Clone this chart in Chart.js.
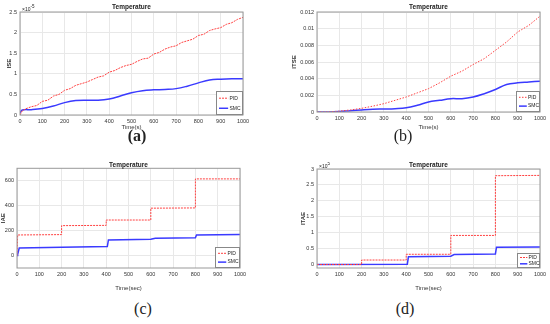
<!DOCTYPE html>
<html>
<head>
<meta charset="utf-8">
<script src="https://cdn.jsdelivr.net/npm/chart.js@4.4.0/dist/chart.umd.min.js"></script>
<style>
  body { margin: 0; background: #fff; }
  #wrap { position: relative; width: 550px; height: 324px; overflow: hidden; }
  canvas { position: absolute; }
  .cap { position: absolute; font-family: "Liberation Serif", serif; font-size: 16px; color: #222; transform: translateX(-50%); }
</style>
</head>
<body>
<div id="wrap">
  <canvas id="ca" style="left:0;top:0" width="275" height="131"></canvas>
  <canvas id="cb" style="left:275px;top:0" width="275" height="131"></canvas>
  <canvas id="cc" style="left:0;top:162px" width="275" height="130"></canvas>
  <canvas id="cd" style="left:275px;top:162px" width="275" height="130"></canvas>
  <div class="cap" style="left:137px;top:127px;font-weight:bold">(a)</div>
  <div class="cap" style="left:403px;top:127px">(b)</div>
  <div class="cap" style="left:143px;top:300px">(c)</div>
  <div class="cap" style="left:405px;top:300px">(d)</div>
</div>
<script>
// (a) ISE, values in units of 1e-5
const iseT   = [0, 10, 25, 50, 75, 100, 125, 150, 175, 200, 225, 250, 275, 300, 325, 350, 375, 400, 425, 450, 475, 500, 525, 550, 575, 600, 625, 650, 675, 700, 725, 750, 775, 800, 825, 850, 875, 900, 925, 950, 975, 1000];
const isePid = [0, 0.1, 0.15, 0.2, 0.23, 0.33, 0.36, 0.46, 0.5, 0.6, 0.64, 0.72, 0.76, 0.8, 0.86, 0.92, 0.95, 1.04, 1.08, 1.15, 1.2, 1.23, 1.3, 1.36, 1.38, 1.48, 1.52, 1.6, 1.65, 1.68, 1.76, 1.8, 1.84, 1.93, 1.96, 2.05, 2.09, 2.12, 2.2, 2.24, 2.32, 2.37];
const iseSmcT = [0, 10, 50, 100, 150, 200, 250, 300, 350, 400, 450, 500, 550, 600, 650, 700, 750, 800, 850, 900, 950, 1000];
const iseSmc  = [0.05, 0.12, 0.13, 0.16, 0.22, 0.3, 0.35, 0.36, 0.36, 0.39, 0.46, 0.54, 0.59, 0.61, 0.62, 0.64, 0.7, 0.78, 0.85, 0.87, 0.88, 0.88];

// (b) ITSE
const itseT   = [0, 50, 100, 150, 200, 250, 300, 350, 400, 450, 500, 550, 600, 650, 700, 750, 800, 850, 900, 950, 1000];
const itsePid = [0, 0.00002, 0.0001, 0.00025, 0.00044, 0.0007, 0.001, 0.0014, 0.0018, 0.0023, 0.0028, 0.0035, 0.0043, 0.0049, 0.0057, 0.0064, 0.0074, 0.0084, 0.0096, 0.0104, 0.0115];
const itseSmc = [0, 0, 0.00005, 0.00015, 0.00025, 0.00033, 0.00036, 0.0004, 0.0005, 0.0008, 0.0012, 0.0014, 0.0016, 0.0016, 0.0018, 0.0022, 0.0027, 0.0033, 0.0035, 0.0036, 0.0037];

// (c) IAE
const iaePidT = [0, 3, 200, 200, 400, 400, 600, 600, 800, 800, 1000];
const iaePid  = [0, 165, 168, 240, 242, 285, 285, 380, 382, 615, 615];
const iaeSmcT = [0, 3, 10, 200, 405, 410, 600, 620, 800, 805, 1000];
const iaeSmc  = [0, 10, 60, 66, 72, 125, 130, 138, 142, 165, 168];

// (d) ITAE, values in units of 1e5
const itaePidT = [0, 200, 200, 400, 400, 600, 600, 800, 800, 1000];
const itaePid  = [0.01, 0.01, 0.15, 0.15, 0.33, 0.33, 0.92, 0.92, 2.79, 2.8];
const itaeSmcT = [0, 405, 410, 600, 615, 800, 805, 1000];
const itaeSmc  = [0.01, 0.02, 0.25, 0.27, 0.32, 0.34, 0.55, 0.56];

const xTicks = [0, 100, 200, 300, 400, 500, 600, 700, 800, 900, 1000];
const RED = '#ff4040', BLUE = '#3a3aff';

function pts(xs, ys) { return xs.map((x, i) => ({ x: x, y: ys[i] })); }
const fmt = v => String(+Number(v).toFixed(6));

const boxPlugin = {
  id: 'box',
  afterDraw(chart, args, o) {
    const c = chart.ctx, a = chart.chartArea;
    c.save();
    c.strokeStyle = '#999'; c.lineWidth = 1;
    c.strokeRect(a.left, a.top, a.right - a.left, a.bottom - a.top);
    // title
    c.fillStyle = '#222';
    c.font = 'bold 6.5px "Liberation Sans", Arial';
    c.textAlign = 'center'; c.textBaseline = 'alphabetic';
    c.fillText('Temperature', (a.left + a.right) / 2, a.top + o.titleDy);
    // exponent
    if (o.exp) {
      c.textAlign = 'left';
      c.font = '5px "Liberation Sans", Arial';
      c.fillText('\u00d710', a.left + 2, a.top - 1.5);
      c.font = '4.5px "Liberation Sans", Arial';
      c.fillText(o.exp, a.left + 10.5, a.top - 4.5);
    }
    // legend
    const w = o.lw, h = o.lh;
    const x0 = a.right - w, y0 = a.bottom - h;
    c.fillStyle = '#fff';
    c.fillRect(x0, y0, w, h);
    c.strokeStyle = '#888';
    c.strokeRect(x0 + 0.5, y0 + 0.5, w - 1, h - 1);
    const items = [['PID', RED, o.pidDash, 1], ['SMC', BLUE, [], 1.5]];
    items.forEach((it, i) => {
      const yy = y0 + h * (i === 0 ? 0.3 : 0.72);
      c.strokeStyle = it[1]; c.lineWidth = it[3]; c.setLineDash(it[2]);
      c.beginPath(); c.moveTo(x0 + 3, yy); c.lineTo(x0 + w * 0.45, yy); c.stroke();
      c.setLineDash([]);
      c.fillStyle = '#222'; c.font = '5px "Liberation Sans", Arial';
      c.textAlign = 'left'; c.textBaseline = 'middle';
      c.fillText(it[0], x0 + w * 0.5, yy);
    });
    c.restore();
  }
};

function makePanel(id, p) {
  new Chart(document.getElementById(id), {
    type: 'line',
    data: {
      datasets: [
        { label: 'PID', data: pts(p.pidT, p.pid), borderColor: RED, borderWidth: 1, borderDash: p.pidDash, pointRadius: 0, tension: 0 },
        { label: 'SMC', data: pts(p.smcT, p.smc), borderColor: BLUE, borderWidth: 1.5, pointRadius: 0, tension: p.tension }
      ]
    },
    options: {
      responsive: false,
      animation: false,
      layout: { padding: { top: p.padTop, right: p.padRight, left: p.padLeft, bottom: 0 } },
      plugins: {
        legend: { display: false },
        tooltip: { enabled: false },
        box: { titleDy: p.titleDy, exp: p.exp, lw: p.lw, lh: p.lh, pidDash: p.pidDash }
      },
      scales: {
        x: {
          type: 'linear', min: 0, max: 1000,
          afterBuildTicks: ax => { ax.ticks = xTicks.map(v => ({ value: v })); },
          afterFit: ax => { ax.height = p.xh; },
          grid: { color: '#e8e8e8', drawTicks: false },
          border: { display: false },
          ticks: { font: { size: 5.5, family: 'Liberation Sans' }, color: '#333', padding: 3, maxRotation: 0, callback: fmt },
          title: { display: true, text: p.xTitle, font: { size: 6, family: 'Liberation Sans' }, color: '#333', padding: 0 }
        },
        y: {
          min: p.ymin, max: p.ymax,
          afterBuildTicks: ax => { ax.ticks = p.yTicks.map(v => ({ value: v })); },
          afterFit: ax => { ax.width = p.yw; },
          grid: { color: '#e8e8e8', drawTicks: false },
          border: { display: false },
          ticks: { font: { size: 5.5, family: 'Liberation Sans' }, color: '#333', padding: 3, callback: fmt },
          title: { display: true, text: p.yTitle, font: { size: 6, weight: 'bold', family: 'Liberation Sans' }, color: '#333', padding: 0 }
        }
      }
    },
    plugins: [boxPlugin]
  });
}

makePanel('ca', {
  pidT: iseT, pid: isePid, smcT: iseSmcT, smc: iseSmc, tension: 0.4, pidDash: [2, 1],
  ymin: 0, ymax: 2.5, yTicks: [0, 0.5, 1, 1.5, 2, 2.5], yTitle: 'ISE', xTitle: 'Time(s)',
  padTop: 12, padRight: 32, padLeft: 6, yw: 14, xh: 16, titleDy: -3, exp: '-5', lw: 27, lh: 24
});
makePanel('cb', {
  pidT: itseT, pid: itsePid, smcT: itseT, smc: itseSmc, tension: 0.4, pidDash: [1.5, 1.5],
  ymin: 0, ymax: 0.012, yTicks: [0, 0.002, 0.004, 0.006, 0.008, 0.01, 0.012], yTitle: 'ITSE', xTitle: 'Time(s)',
  padTop: 12, padRight: 10, padLeft: 16, yw: 26, xh: 19, titleDy: -3, exp: null, lw: 24, lh: 21
});
makePanel('cc', {
  pidT: iaePidT, pid: iaePid, smcT: iaeSmcT, smc: iaeSmc, tension: 0, pidDash: [2, 1],
  ymin: -100, ymax: 700, yTicks: [0, 200, 400, 600], yTitle: 'IAE', xTitle: 'Time(sec)',
  padTop: 6, padRight: 35, padLeft: 0, yw: 17, xh: 24, titleDy: -1, exp: null, lw: 25, lh: 21
});
makePanel('cd', {
  pidT: itaePidT, pid: itaePid, smcT: itaeSmcT, smc: itaeSmc, tension: 0, pidDash: [2, 1],
  ymin: -0.1, ymax: 3, yTicks: [0, 0.5, 1, 1.5, 2, 2.5, 3], yTitle: 'ITAE', xTitle: 'Time(sec)',
  padTop: 7, padRight: 10, padLeft: 25, yw: 17, xh: 24, titleDy: -2, exp: '5', lw: 23, lh: 15
});
</script>
</body>
</html>
